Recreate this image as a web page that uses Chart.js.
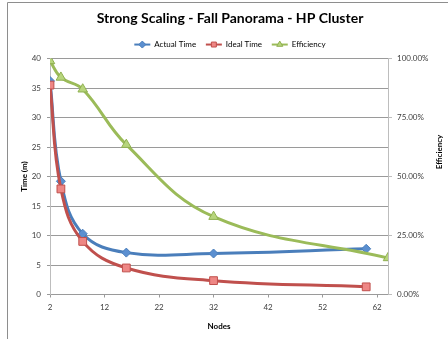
<!DOCTYPE html>
<html>
<head>
<meta charset="utf-8">
<script src="https://cdn.jsdelivr.net/npm/chart.js@4.4.1/dist/chart.umd.min.js"></script>
<style>
  html, body { margin: 0; padding: 0; background: #fff; overflow: hidden; }
  #chart { display: block; }
</style>
</head>
<body>
<canvas id="chart" width="460" height="339"></canvas>
<script>
// Strong scaling run, minutes per job vs node count
const nodes = [2, 4, 8, 16, 32, 60];
const actualTime = [36.2, 19.2, 10.3, 7.1, 6.95, 7.75];
const idealTime = [35.5, 17.9, 9.0, 4.5, 2.35, 1.3];
const effNodes = [2, 4, 8, 16, 32, 64];
const efficiency = [0.99, 0.92, 0.87, 0.635, 0.33, 0.155];
const xTicks = [2, 12, 22, 32, 42, 52, 62];

const FONT = "Lato, 'Open Sans', sans-serif";
const GRID = '#9a9a9a';
const AXIS = '#bdbdbd';

function marker(ctx, style, x, y, r) {
  ctx.beginPath();
  if (style === 'rectRot') {
    ctx.moveTo(x, y - r); ctx.lineTo(x + r, y); ctx.lineTo(x, y + r); ctx.lineTo(x - r, y);
  } else if (style === 'rect') {
    const s = r * Math.SQRT1_2;
    ctx.rect(x - s, y - s, 2 * s, 2 * s);
  } else {
    ctx.moveTo(x, y - r); ctx.lineTo(x + r * 0.87, y + r * 0.5); ctx.lineTo(x - r * 0.87, y + r * 0.5);
  }
  ctx.closePath();
  ctx.fill();
  ctx.stroke();
}

// frame, legend line+marker samples and the right-hand axis title
const decor = {
  id: 'decor',
  beforeDraw(chart) {
    const ctx = chart.ctx;
    ctx.save();
    ctx.strokeStyle = '#8e8e8e';
    ctx.lineWidth = 1;
    ctx.beginPath();
    ctx.moveTo(7.5, 339); ctx.lineTo(7.5, 2.5); ctx.lineTo(460, 2.5);
    ctx.stroke();
    ctx.restore();
  },
  afterDraw(chart) {
    const ctx = chart.ctx;
    const boxW = chart.legend.options.labels.boxWidth;
    chart.legend.legendHitBoxes.forEach((box, i) => {
      const ds = chart.data.datasets[i];
      const y = box.top + box.height / 2;
      ctx.save();
      ctx.strokeStyle = ds.borderColor;
      ctx.lineWidth = 2;
      ctx.beginPath();
      ctx.moveTo(box.left, y); ctx.lineTo(box.left + boxW, y);
      ctx.stroke();
      ctx.fillStyle = ds.pointBackgroundColor;
      ctx.strokeStyle = ds.pointBorderColor;
      ctx.lineWidth = 1;
      marker(ctx, ds.pointStyle, box.left + boxW / 2, y, 3.5);
      ctx.restore();
    });
    ctx.save();
    ctx.translate(439, 152);
    ctx.rotate(-Math.PI / 2);
    ctx.font = 'bold 8px ' + FONT;
    ctx.fillStyle = '#000';
    ctx.textAlign = 'center';
    ctx.textBaseline = 'middle';
    ctx.fillText('Efficiency', 0, 0);
    ctx.restore();
  }
};

new Chart(document.getElementById('chart'), {
  type: 'line',
  data: {
    datasets: [
      {
        label: 'Actual Time',
        data: nodes.map((n, i) => ({ x: n, y: actualTime[i] })),
        yAxisID: 'y', order: 3,
        borderColor: '#4a7ebb', borderWidth: 3, tension: 0.4,
        pointStyle: 'rectRot', pointRadius: 4.5,
        pointBackgroundColor: '#5b8fd0', pointBorderColor: '#4a7ebb', pointBorderWidth: 1,
      },
      {
        label: 'Ideal Time',
        data: nodes.map((n, i) => ({ x: n, y: idealTime[i] })),
        yAxisID: 'y', order: 2,
        borderColor: '#c0504d', borderWidth: 3, tension: 0.4,
        pointStyle: 'rect', pointRadius: 5.5,
        pointBackgroundColor: '#ee8785', pointBorderColor: '#c0504d', pointBorderWidth: 1,
      },
      {
        label: 'Efficiency',
        data: effNodes.map((n, i) => ({ x: n, y: efficiency[i] })),
        yAxisID: 'y1', order: 1,
        borderColor: '#9bbb59', borderWidth: 3, tension: 0.4,
        pointStyle: 'triangle', pointRadius: 5.5,
        pointBackgroundColor: '#b7d57c', pointBorderColor: '#8fb050', pointBorderWidth: 1,
      },
    ],
  },
  options: {
    responsive: false,
    animation: false,
    layout: { padding: 0 },
    plugins: {
      title: {
        display: true,
        text: 'Strong Scaling - Fall Panorama - HP Cluster',
        color: '#000',
        font: { family: FONT, size: 14, weight: 'bold' },
        padding: { top: 10, bottom: 4 },
      },
      legend: {
        labels: {
          boxWidth: 16, boxHeight: 8, padding: 9.75,
          color: '#404040',
          font: { family: FONT, size: 8 },
          generateLabels: chart => chart.data.datasets.map((ds, i) => ({
            text: ds.label, datasetIndex: i, hidden: false,
            fillStyle: 'rgba(0,0,0,0)', strokeStyle: 'rgba(0,0,0,0)', lineWidth: 0,
          })),
        },
      },
      tooltip: { enabled: false },
    },
    scales: {
      x: {
        type: 'linear', min: 2, max: 64,
        afterBuildTicks: s => { s.ticks = xTicks.map(v => ({ value: v })); },
        afterFit: s => { s.height = 44.5; },
        border: { color: GRID },
        grid: { drawOnChartArea: false, tickLength: 3, color: GRID },
        ticks: { color: '#404040', font: { family: FONT, size: 8 }, padding: 5, maxRotation: 0 },
        title: { display: true, text: 'Nodes', color: '#000', font: { family: FONT, size: 8, weight: 'bold' }, padding: { top: 10, bottom: 8 } },
      },
      y: {
        position: 'left', min: 0, max: 40,
        afterFit: s => { s.width = 50; },
        border: { color: AXIS },
        grid: { color: GRID, tickLength: 3 },
        ticks: { stepSize: 5, color: '#404040', font: { family: FONT, size: 8 }, padding: 6 },
        title: { display: true, text: 'Time (m)', color: '#000', font: { family: FONT, size: 8, weight: 'bold' }, padding: { top: 20, bottom: 6 } },
      },
      y1: {
        position: 'right', min: 0, max: 1,
        afterFit: s => { s.width = 72; },
        border: { color: AXIS },
        grid: { drawOnChartArea: false, color: AXIS, tickLength: 4 },
        ticks: {
          stepSize: 0.25, color: '#404040', font: { family: FONT, size: 8 }, padding: 5,
          callback: v => (v * 100).toFixed(2) + '%',
        },
      },
    },
  },
  plugins: [decor],
});
</script>
</body>
</html>
